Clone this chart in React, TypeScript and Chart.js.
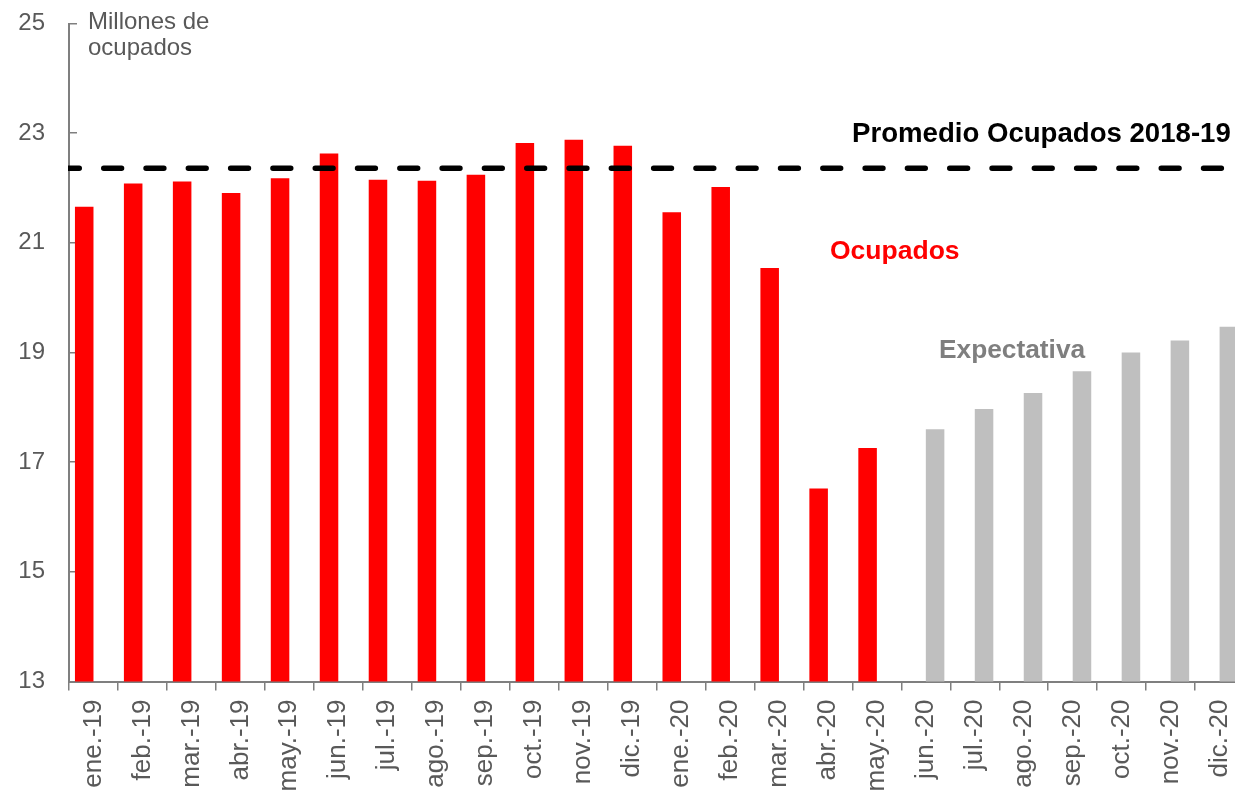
import React, { useEffect, useRef } from 'react';
import { Chart, registerables } from 'chart.js';

Chart.register(...registerables);

const categories = [
  'ene.-19', 'feb.-19', 'mar.-19', 'abr.-19', 'may.-19', 'jun.-19', 'jul.-19', 'ago.-19',
  'sep.-19', 'oct.-19', 'nov.-19', 'dic.-19', 'ene.-20', 'feb.-20', 'mar.-20', 'abr.-20',
  'may.-20', 'jun.-20', 'jul.-20', 'ago.-20', 'sep.-20', 'oct.-20', 'nov.-20', 'dic.-20',
];

const ocupados: (number | null)[] = [
  21.66, 22.08, 22.12, 21.91, 22.18, 22.63, 22.15, 22.13, 22.24, 22.82, 22.88, 22.77,
  21.56, 22.02, 20.54, 16.52, 17.26, null, null, null, null, null, null, null,
];

const expectativa: (number | null)[] = [
  null, null, null, null, null, null, null, null, null, null, null, null,
  null, null, null, null, null, 17.6, 17.97, 18.26, 18.66, 19.0, 19.22, 19.47,
];

const promedio2018_19 = 22.36;

const yMin = 13;
const yMax = 25;
const yStep = 2;

const axisTitle = ['Millones de', 'ocupados'];
const labelPromedio = 'Promedio Ocupados 2018-19';
const labelOcupados = 'Ocupados';
const labelExpectativa = 'Expectativa';

const FONT = '"Liberation Sans", Arial, sans-serif';

const averageLinePlugin = {
  id: 'averageLine',
  afterDatasetsDraw(chart: any) {
    const { ctx, chartArea, scales } = chart;
    const y = scales.y.getPixelForValue(promedio2018_19);
    ctx.save();
    ctx.beginPath();
    ctx.rect(chartArea.left - 1, 0, chartArea.right - chartArea.left + 1, chart.height);
    ctx.clip();
    ctx.strokeStyle = '#000000';
    ctx.lineWidth = 5.5;
    ctx.lineCap = 'round';
    ctx.setLineDash([17.8, 24.5]);
    ctx.lineDashOffset = 7.55;
    ctx.beginPath();
    ctx.moveTo(chartArea.left, y);
    ctx.lineTo(chartArea.right, y);
    ctx.stroke();
    ctx.restore();
  },
};

const annotationPlugin = {
  id: 'annotationTexts',
  afterDraw(chart: any) {
    const ctx = chart.ctx;
    ctx.save();
    ctx.textAlign = 'left';
    ctx.textBaseline = 'alphabetic';

    ctx.fillStyle = '#595959';
    ctx.font = `24px ${FONT}`;
    ctx.fillText(axisTitle[0], 88, 28.5);
    ctx.fillText(axisTitle[1], 88, 55);

    ctx.fillStyle = '#000000';
    ctx.font = `bold 27.6px ${FONT}`;
    ctx.fillText(labelPromedio, 852, 141.7);

    ctx.fillStyle = '#FF0000';
    ctx.font = `bold 26.5px ${FONT}`;
    ctx.fillText(labelOcupados, 830, 259.3);

    ctx.fillStyle = '#7F7F7F';
    ctx.font = `bold 26.3px ${FONT}`;
    ctx.fillText(labelExpectativa, 939, 358.3);

    ctx.restore();
  },
};

export default function App() {
  const canvasRef = useRef<HTMLCanvasElement | null>(null);

  useEffect(() => {
    const canvas = canvasRef.current;
    if (!canvas) return;

    const chart = new Chart(canvas, {
      type: 'bar',
      data: {
        labels: categories,
        datasets: [
          {
            label: 'Ocupados',
            data: ocupados,
            backgroundColor: '#FF0000',
            borderWidth: 0,
          },
          {
            label: 'Expectativa',
            data: expectativa,
            backgroundColor: '#BFBFBF',
            borderWidth: 0,
          },
        ],
      },
      options: {
        responsive: false,
        animation: false,
        datasets: {
          bar: {
            categoryPercentage: 0.757,
            barPercentage: 1.0,
          },
        },
        layout: { padding: { left: 0, right: 10, top: 23.5, bottom: 0 } },
        plugins: {
          legend: { display: false },
          tooltip: { enabled: false },
        },
        scales: {
          x: {
            type: 'category',
            position: 'bottom',
            afterFit: (scale: any) => {
              scale.height = 116.5;
            },
            grid: {
              display: true,
              drawOnChartArea: false,
              drawTicks: true,
              tickLength: 9,
              color: '#7F7F7F',
              lineWidth: 1.5,
              offset: true,
            },
            border: { display: true, color: '#7F7F7F', width: 2 },
            ticks: {
              autoSkip: false,
              minRotation: 90,
              maxRotation: 90,
              padding: 9,
              color: '#595959',
              font: { family: FONT, size: 26 },
            },
          },
          y: {
            type: 'linear',
            position: 'left',
            min: yMin,
            max: yMax,
            afterFit: (scale: any) => {
              scale.width = 69;
              scale.paddingTop = 0;
              scale.paddingBottom = 0;
            },
            grid: {
              display: true,
              drawOnChartArea: false,
              drawTicks: true,
              tickLength: -8,
              color: '#7F7F7F',
              lineWidth: 1.5,
            },
            border: { display: true, color: '#7F7F7F', width: 2 },
            ticks: {
              stepSize: yStep,
              padding: 32,
              color: '#595959',
              font: { family: FONT, size: 24 },
            },
          },
        },
      } as any,
      plugins: [averageLinePlugin, annotationPlugin],
    });

    return () => {
      chart.destroy();
    };
  }, []);

  return (
    <div
      style={{
        position: 'fixed',
        left: 0,
        top: 0,
        width: 1235,
        height: 798,
        overflow: 'hidden',
        background: '#ffffff',
      }}
    >
      <canvas ref={canvasRef} width={1260} height={798} style={{ display: 'block' }} />
    </div>
  );
}
